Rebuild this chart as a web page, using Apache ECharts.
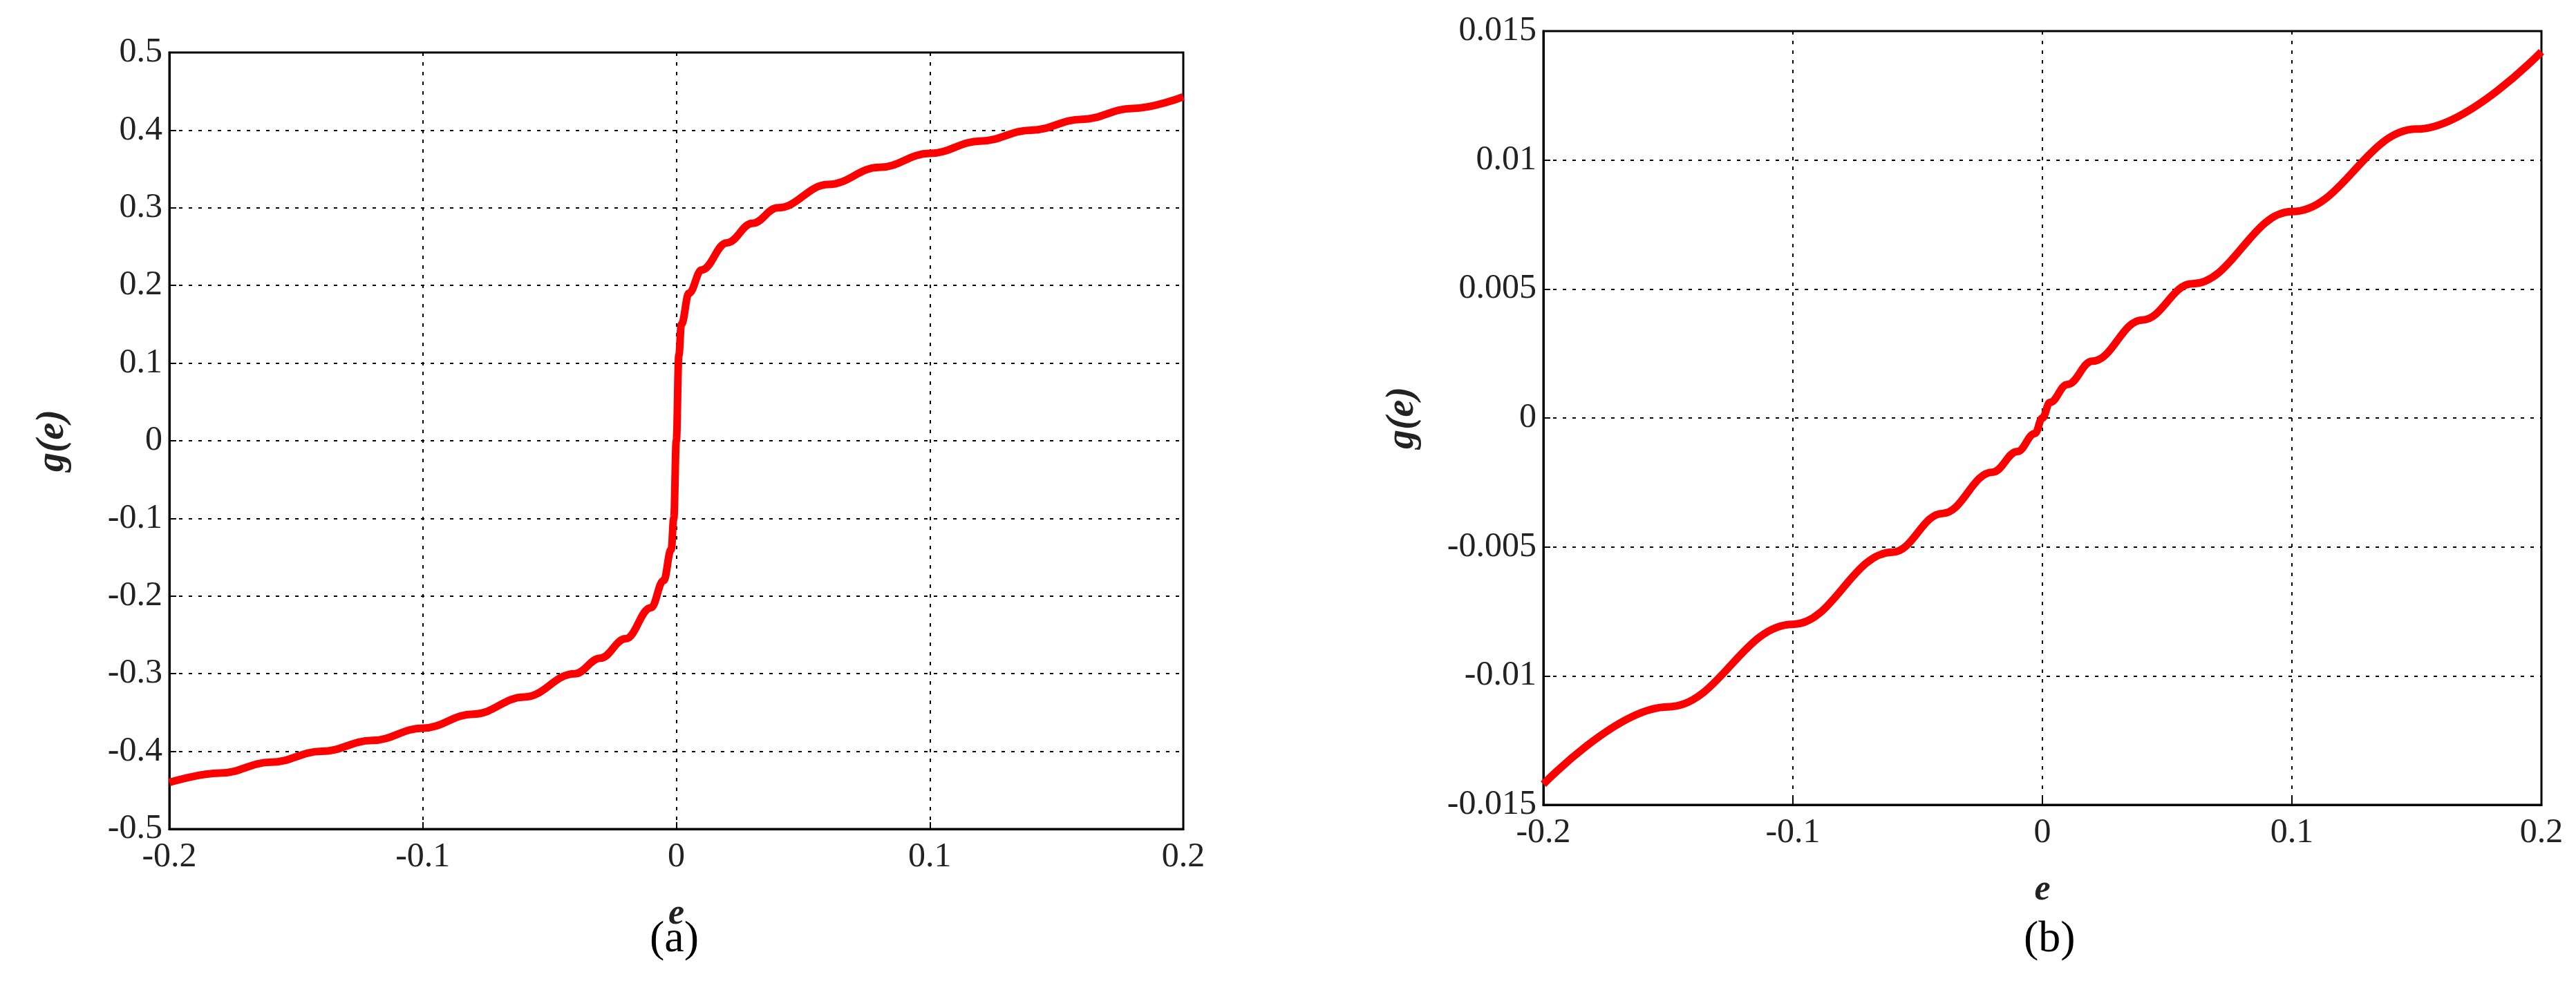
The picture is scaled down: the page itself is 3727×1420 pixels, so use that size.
<!DOCTYPE html>
<html><head><meta charset="utf-8">
<script src="https://cdn.jsdelivr.net/npm/echarts@6/dist/echarts.min.js"></script>
<style>html,body{margin:0;padding:0;background:#fff}#c{width:3727px;height:1420px}</style>
</head><body><div id="c"></div>
<script>
const eA = [-0.2,-0.18,-0.16,-0.14,-0.12,-0.1,-0.08,-0.06,-0.04,-0.03,-0.02,-0.01,-0.005,-0.002,-0.001,0,0.001,0.002,0.005,0.01,0.02,0.03,0.04,0.06,0.08,0.1,0.12,0.14,0.16,0.18,0.2];
const gA = [-0.44,-0.428,-0.414,-0.40,-0.386,-0.37,-0.352,-0.33,-0.30,-0.28,-0.255,-0.215,-0.18,-0.14,-0.10,0,0.11,0.15,0.19,0.22,0.255,0.28,0.30,0.33,0.352,0.37,0.386,0.40,0.414,0.428,0.443];
const eB = [-0.2,-0.15,-0.1,-0.06,-0.04,-0.02,-0.01,-0.003,0,0.003,0.01,0.02,0.04,0.06,0.1,0.15,0.2];
const gB = [-0.0142,-0.0112,-0.008,-0.0052,-0.0037,-0.0021,-0.0013,-0.0006,0,0.0006,0.0013,0.0022,0.0038,0.0052,0.008,0.0112,0.0142];

const font = '"Liberation Serif", serif';
const ch = echarts.init(document.getElementById('c'));
function xAxis(i){return {gridIndex:i,type:'value',min:-0.2,max:0.2,interval:0.1,
  name:'e',nameLocation:'middle',nameGap:98,
  nameTextStyle:{fontFamily:font,fontSize:52,fontStyle:'italic',fontWeight:'bold',color:'#222'},
  axisLine:{show:true,onZero:false,lineStyle:{color:'#000',width:3}},
  axisTick:{inside:true,length:10,lineStyle:{color:'#000',width:2}},
  axisLabel:{fontFamily:font,fontSize:50,color:'#222',margin:16},
  splitLine:{show:true,lineStyle:{color:'#000',type:[5,9],width:2}}};}
function yAxis(i,min,max,iv,gap){return {gridIndex:i,type:'value',min:min,max:max,interval:iv,
  name:'g(e)',nameLocation:'middle',nameGap:gap,nameRotate:90,
  nameTextStyle:{fontFamily:font,fontSize:56,fontStyle:'italic',fontWeight:'bold',color:'#222'},
  axisLine:{show:true,onZero:false,lineStyle:{color:'#000',width:3}},
  axisTick:{inside:true,length:10,lineStyle:{color:'#000',width:2}},
  axisLabel:{fontFamily:font,fontSize:50,color:'#222',margin:10},
  splitLine:{show:true,lineStyle:{color:'#000',type:[5,9],width:2}}};}
ch.setOption({
  animation:false,
  grid:[{left:245,width:1467,top:76,height:1124,show:true,borderColor:'#000',borderWidth:3},
        {left:2233,width:1444,top:45,height:1120,show:true,borderColor:'#000',borderWidth:3}],
  xAxis:[xAxis(0),xAxis(1)],
  yAxis:[yAxis(0,-0.5,0.5,0.1,140),yAxis(1,-0.015,0.015,0.005,175)],
  series:[
    {type:'line',xAxisIndex:0,yAxisIndex:0,data:eA.map((x,i)=>[x,gA[i]]),showSymbol:false,smooth:0.4,smoothMonotone:'x',lineStyle:{color:'#ff0000',width:11}},
    {type:'line',xAxisIndex:1,yAxisIndex:1,data:eB.map((x,i)=>[x,gB[i]]),showSymbol:false,smooth:0.4,smoothMonotone:'x',lineStyle:{color:'#ff0000',width:11}}
  ],
  graphic:[
    {type:'text',left:940,top:1328,style:{text:'(a)',font:'64px "Liberation Serif"',fill:'#000'}},
    {type:'text',left:2928,top:1328,style:{text:'(b)',font:'64px "Liberation Serif"',fill:'#000'}}
  ]
});
</script></body></html>
